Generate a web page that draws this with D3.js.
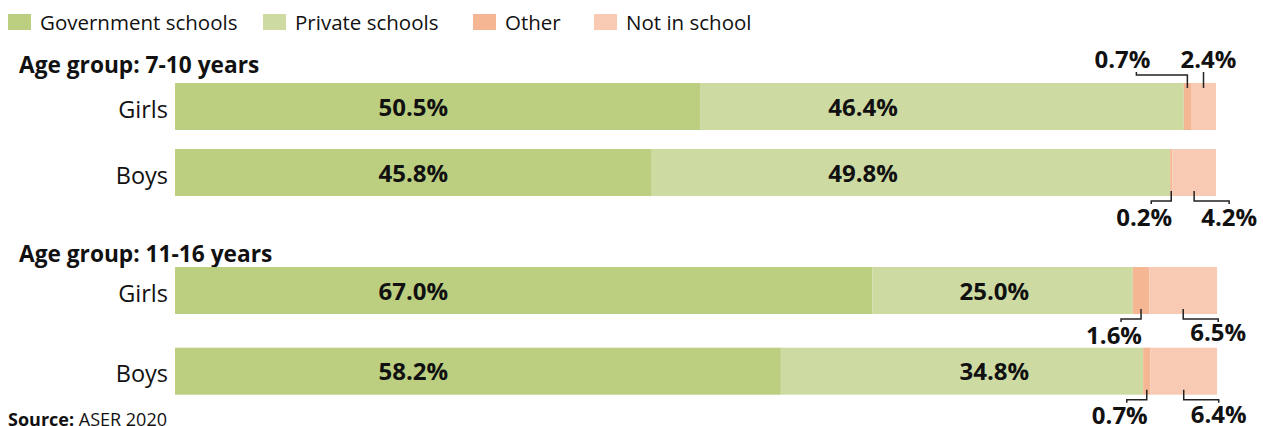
<!DOCTYPE html>
<html>
<head>
<meta charset="utf-8">
<script src="https://cdn.jsdelivr.net/npm/d3@7"></script>
<style>
  body { margin: 0; background: #fff; }
  svg { display: block; font-family: "Open Sans", sans-serif; }
</style>
</head>
<body>
<div class="container"></div>
<script>
const w = 1263;
const h = 426;

// data
const groups = ['Age group: 7-10 years', 'Age group: 11-16 years'];
const categories = ['Girls', 'Boys'];
const seriesNames = ['Government schools', 'Private schools', 'Other', 'Not in school'];
const government = [50.5, 45.8, 67.0, 58.2];
const privateSchools = [46.4, 49.8, 25.0, 34.8];
const other = [0.7, 0.2, 1.6, 0.7];
const notInSchool = [2.4, 4.2, 6.5, 6.4];
const source = 'ASER 2020';

const colors = ['#bccf80', '#cddba3', '#f5b693', '#f8cab3'];

// layout
const legendX = [8, 263, 473, 594];
const groupLayout = [
  { title: 73, top: 83, step: 66 },
  { title: 262, top: 267, step: 80.7 }
];
const barH = 47;
const govLabelAt = 22.9;
const privLabelAt = [66.1, 78.7];

const rows = [];
groups.forEach((g, gi) => {
  categories.forEach((c, ci) => {
    const i = gi * categories.length + ci;
    rows.push({
      group: gi, cat: c,
      values: [government[i], privateSchools[i], other[i], notInSchool[i]]
    });
  });
});

const svg = d3.select('.container').append('svg')
  .attr('width', w)
  .attr('height', h);

const x = d3.scaleLinear().domain([0, 100]).range([175, 1216]);

const yScales = groupLayout.map(g => d3.scaleBand()
  .domain(categories)
  .range([g.top, g.top + g.step + barH])
  .paddingInner((g.step - barH) / g.step)
  .paddingOuter(0));

// legend
const legend = svg.append('g');
seriesNames.forEach((s, i) => {
  const item = legend.append('g').attr('transform', `translate(${legendX[i]}, 0)`);
  item.append('rect')
    .attr('x', 0).attr('y', 14)
    .attr('width', 23).attr('height', 16)
    .attr('fill', colors[i]);
  item.append('text')
    .attr('x', 32).attr('y', 29.5)
    .attr('font-size', 20.5)
    .attr('fill', '#111')
    .text(s);
});

// group titles
groups.forEach((g, gi) => {
  svg.append('text')
    .attr('x', 19).attr('y', groupLayout[gi].title)
    .attr('font-size', 22.7)
    .attr('font-weight', 700)
    .attr('fill', '#111')
    .text(g);
});

// bars
rows.forEach(r => {
  const y = yScales[r.group];
  const stack = d3.cumsum(r.values);
  const segs = r.values.map((v, i) => ({ v, i, x0: stack[i] - v, x1: stack[i] }));
  const top = y(r.cat);
  r.top = top;
  r.segs = segs;

  const g = svg.append('g');
  g.selectAll('rect')
    .data(segs)
    .enter()
    .append('rect')
      .attr('x', d => x(d.x0))
      .attr('y', top)
      .attr('width', d => x(d.x1) - x(d.x0))
      .attr('height', y.bandwidth())
      .attr('fill', d => colors[d.i]);

  g.append('text')
    .attr('x', 168)
    .attr('y', top + y.bandwidth() / 2 + 11)
    .attr('text-anchor', 'end')
    .attr('font-size', 23.5)
    .attr('fill', '#111')
    .text(r.cat);

  [govLabelAt, privLabelAt[r.group]].forEach((at, i) => {
    g.append('text')
      .attr('x', x(at))
      .attr('y', top + y.bandwidth() / 2 + 9)
      .attr('text-anchor', 'middle')
      .attr('font-size', 24)
      .attr('font-weight', 700)
      .attr('fill', '#111')
      .text(r.values[i].toFixed(1) + '%');
  });
});

// small segment annotations
const line = d3.line();
function annotate(r, segIndex, placement, dx, textDx, textDy) {
  const s = r.segs[segIndex];
  const cx = x((s.x0 + s.x1) / 2);
  const top = r.top;
  const bottom = r.top + barH;
  let pts, tx, ty;
  if (placement === 'above') {
    if (dx === 0) {
      pts = [[cx, top + 5], [cx, top - 11]];
    } else {
      pts = [[cx, top + 5], [cx, top - 8], [cx + dx, top - 8], [cx + dx, top - 11]];
    }
    tx = cx + dx + textDx;
    ty = top - 15;
  } else {
    pts = [[cx, bottom - 5], [cx, bottom + 5], [cx + dx, bottom + 5], [cx + dx, bottom + 8]];
    tx = cx + dx + textDx;
    ty = bottom + textDy;
  }
  svg.append('path')
    .attr('d', line(pts))
    .attr('fill', 'none')
    .attr('stroke', '#222')
    .attr('stroke-width', 1.5);
  svg.append('text')
    .attr('x', tx).attr('y', ty)
    .attr('text-anchor', 'middle')
    .attr('font-size', 24)
    .attr('font-weight', 700)
    .attr('fill', '#111')
    .text(r.values[segIndex].toFixed(1) + '%');
}

annotate(rows[0], 2, 'above', -51, -14);
annotate(rows[0], 3, 'above', 0, 5);
annotate(rows[1], 2, 'below', -20, -7, 30);
annotate(rows[1], 3, 'below', 35, 0, 30);
annotate(rows[2], 2, 'below', -20, -7, 30);
annotate(rows[2], 3, 'below', 35, 0, 27);
annotate(rows[3], 2, 'below', -20, -7, 29);
annotate(rows[3], 3, 'below', 35, 0, 28);

// source
const src = svg.append('text')
  .attr('x', 8).attr('y', 426)
  .attr('font-size', 18)
  .attr('fill', '#111');
src.append('tspan').attr('font-weight', 700).text('Source:');
src.append('tspan').text(' ' + source);
</script>
</body>
</html>
